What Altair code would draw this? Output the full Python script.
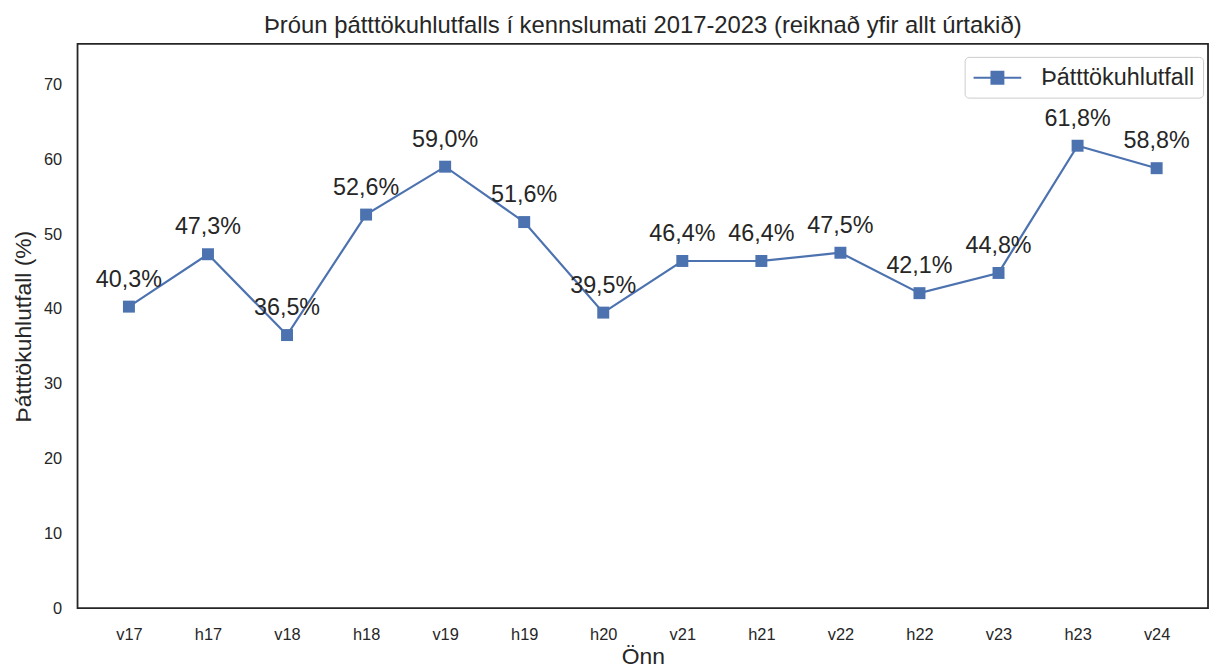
import altair as alt
import pandas as pd

terms = ["v17", "h17", "v18", "h18", "v19", "h19", "h20", "v21", "h21", "v22", "h22", "v23", "h23", "v24"]
values = [40.3, 47.3, 36.5, 52.6, 59.0, 51.6, 39.5, 46.4, 46.4, 47.5, 42.1, 44.8, 61.8, 58.8]
labels = [f"{v:.1f}".replace(".", ",") + "%" for v in values]
series = ["Þátttökuhlutfall"] * len(terms)

df = pd.DataFrame({"Önn": terms, "val": values, "lab": labels, "series": series})

BLUE = "#4c72b0"
TXT = "#262626"
FONT = "Liberation Sans"

x = alt.X("Önn:N", sort=terms, scale=alt.Scale(padding=0.65),
          axis=alt.Axis(title="Önn", labelAngle=0, ticks=False, tickSize=0, domain=False,
                        labelPadding=19, titlePadding=2, labelFontSize=16.5, titleFontSize=23,
                        labelColor=TXT, titleColor=TXT, labelFont=FONT, titleFont=FONT,
                        titleFontWeight="normal"))
y = alt.Y("val:Q", scale=alt.Scale(domain=[0, 75.4], nice=False, zero=True),
          axis=alt.Axis(title="Þátttökuhlutfall (%)", values=[0, 10, 20, 30, 40, 50, 60, 70],
                        grid=False, ticks=False, tickSize=0, domain=False, labelPadding=16,
                        titlePadding=8, labelFontSize=16.5, titleFontSize=23,
                        labelColor=TXT, titleColor=TXT, labelFont=FONT, titleFont=FONT,
                        titleFontWeight="normal"))

color = alt.Color("series:N", scale=alt.Scale(range=[BLUE]),
                  legend=alt.Legend(title=None, orient="none", legendX=893, legendY=13,
                                    symbolType="M-2,0H2M-0.5,-0.5H0.5V0.5H-0.5Z",
                                    symbolSize=576, symbolStrokeWidth=2, symbolOffset=12,
                                    symbolFillColor=BLUE, symbolStrokeColor=BLUE,
                                    labelFontSize=23.5, labelColor=TXT, labelFont=FONT,
                                    labelOffset=31, padding=8,
                                    strokeColor="#cccccc", fillColor="white", cornerRadius=4))

base = alt.Chart(df).encode(x=x, y=y)
line = base.mark_line(strokeWidth=2.2).encode(color=color)
pts = base.mark_point(shape="square", filled=True, size=145, opacity=1, color=BLUE)
txt = base.mark_text(fontSize=23.5, dy=-27, baseline="middle", align="center",
                     color=TXT, font=FONT).encode(text="lab:N")

chart = (line + pts + txt).properties(
    width=1138, height=568,
    title=alt.TitleParams("Þróun þátttökuhlutfalls í kennslumati 2017-2023 (reiknað yfir allt úrtakið)",
                          fontSize=24, fontWeight="normal", color=TXT, font=FONT, offset=6),
    autosize=alt.AutoSizeParams(type="none"),
    padding={"left": 70, "top": 34, "right": 3, "bottom": 59},
).configure_view(stroke=TXT, strokeWidth=1.8)

chart.save("out.html", embed_options={"renderer": "svg", "actions": False})
